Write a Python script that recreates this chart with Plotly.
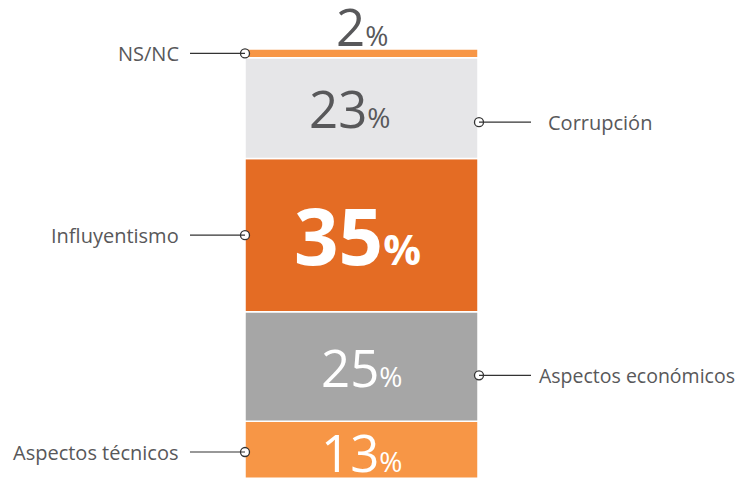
import plotly.graph_objects as go

# ---- data ----
categories = ["Aspectos técnicos", "Aspectos económicos", "Influyentismo", "Corrupción", "NS/NC"]
values = [13, 25, 35, 23, 2]

# ---- styles ----
colors = ["#F79646", "#A6A6A6", "#E46C24", "#E6E6E8", "#F79646"]
num_colors = ["white", "white", "white", "#58585A", "#58585A"]
num_sizes = [51, 51, 78, 51, 51]
pct_sizes = [28, 28, 42, 28, 28]
num_xshift = [0, 0, -4, -12, 0]
num_yshift = [-2, 0, 0, 0, -14]
bold = [False, False, True, False, False]
label_side = ["left", "right", "left", "right", "left"]
label_offset = [-0.5, -2.0, 0, -3.2, 0]   # leader position relative to segment midpoint
label_x = [181, 537, 181, 546, 181]
label_size = [20, 19.5, 20, 20, 20]

BAR_X, BAR_W = 361.5, 233
FONT = "Open Sans"
TXT = "#58585A"
PAGE_OFF = 8          # default body margin of the html page
SCALE = 4.38          # px per percent

fig = go.Figure()
base = 0
mids = []
for c, v, col in zip(categories, values, colors):
    fig.add_trace(go.Bar(x=[BAR_X], y=[v], base=[base], width=[BAR_W], name=c,
                         marker=dict(color=col, line=dict(color="white", width=1.5)),
                         hoverinfo="skip", showlegend=False))
    mids.append(base + v / 2)
    base += v
total = base

annotations = []
cx, cy = [], []
for i, (c, v, m) in enumerate(zip(categories, values, mids)):
    num = f"<b>{v}</b>" if bold[i] else f"{v}"
    pct = "<b>%</b>" if bold[i] else "%"
    txt = f"<span style='font-size:{num_sizes[i]}px'>{num}</span><span style='font-size:{pct_sizes[i]}px'>{pct}</span>"
    if v < 5:
        annotations.append(dict(x=BAR_X, y=total, yanchor="bottom", yshift=num_yshift[i], text=txt,
                                xshift=num_xshift[i],
                                showarrow=False, font=dict(family=FONT, color=num_colors[i])))
    else:
        annotations.append(dict(x=BAR_X, y=m, yanchor="middle", text=txt, showarrow=False,
                                xshift=num_xshift[i], yshift=num_yshift[i],
                                font=dict(family=FONT, color=num_colors[i])))
    ly = m + label_offset[i]
    if label_side[i] == "left":
        x0, x1, anc = 190, 245, "right"
    else:
        x0, x1, anc = 479, 531, "left"
    fig.add_shape(type="line", x0=x0, x1=x1, y0=ly, y1=ly, line=dict(color="#333333", width=1.2))
    cx.append(245 if label_side[i] == "left" else 479)
    cy.append(ly)
    annotations.append(dict(x=label_x[i], y=ly, xanchor=anc, yanchor="middle", text=c, showarrow=False,
                            font=dict(family=FONT, size=label_size[i], color=TXT)))

fig.add_trace(go.Scatter(x=cx, y=cy, mode="markers", hoverinfo="skip", showlegend=False,
                         marker=dict(size=9, color="white", line=dict(color="#333333", width=1.3))))

ymax = 109.2 - PAGE_OFF / SCALE
ymin = ymax - 479 / SCALE
fig.update_layout(
    width=747, height=479, margin=dict(l=0, r=0, t=0, b=0),
    paper_bgcolor="white", plot_bgcolor="white",
    xaxis=dict(range=[PAGE_OFF, 747 + PAGE_OFF], visible=False, fixedrange=True),
    yaxis=dict(range=[ymin, ymax], visible=False, fixedrange=True),
    annotations=annotations, barmode="overlay",
)
fig.write_html("out.html")
